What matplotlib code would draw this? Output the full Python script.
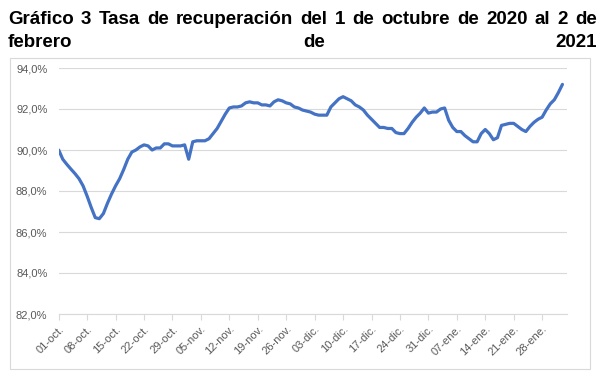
import matplotlib
matplotlib.use('Agg')
import matplotlib.pyplot as plt
import matplotlib.dates as mdates
from matplotlib.patches import Rectangle
from matplotlib.ticker import FuncFormatter
import datetime as dt

# ---------------- data ----------------
start_date = dt.date(2020, 10, 1)
rate = [
    90.0, 89.55, 89.3, 89.07, 88.85, 88.6, 88.25, 87.75, 87.2, 86.7,
    86.65, 86.9, 87.4, 87.85, 88.25, 88.6, 89.05, 89.55, 89.9, 90.0,
    90.15, 90.25, 90.2, 90.0, 90.1, 90.1, 90.3, 90.3, 90.2, 90.2,
    90.2, 90.25, 89.55, 90.4, 90.45, 90.45, 90.45, 90.55, 90.8, 91.05,
    91.4, 91.75, 92.05, 92.1, 92.1, 92.15, 92.3, 92.35, 92.3, 92.3,
    92.2, 92.2, 92.15, 92.35, 92.45, 92.4, 92.3, 92.25, 92.1, 92.05,
    91.95, 91.9, 91.85, 91.75, 91.7, 91.7, 91.7, 92.1, 92.3, 92.5,
    92.6, 92.5, 92.4, 92.2, 92.1, 91.95, 91.7, 91.5, 91.3, 91.1,
    91.1, 91.05, 91.05, 90.85, 90.8, 90.8, 91.05, 91.35, 91.6, 91.8,
    92.05, 91.8, 91.85, 91.85, 92.0, 92.05, 91.45, 91.1, 90.9, 90.9,
    90.7, 90.55, 90.4, 90.4, 90.8, 91.0, 90.8, 90.5, 90.6, 91.2,
    91.25, 91.3, 91.3, 91.15, 91.0, 90.9, 91.15, 91.35, 91.5, 91.6,
    91.95, 92.25, 92.45, 92.8, 93.2,
]
tick_labels = ['01-oct.', '08-oct.', '15-oct.', '22-oct.', '29-oct.', '05-nov.',
               '12-nov.', '19-nov.', '26-nov.', '03-dic.', '10-dic.', '17-dic.',
               '24-dic.', '31-dic.', '07-ene.', '14-ene.', '21-ene.', '28-ene.']
y_ticks = [82, 84, 86, 88, 90, 92, 94]
title_line1 = "Gráfico 3 Tasa de recuperación del 1 de octubre de 2020 al 2 de"
title_line2 = "febrero de 2021"

# ---------------- figure ----------------
W, H = 610, 377
fig = plt.figure(figsize=(W / 100, H / 100), dpi=100)
plt.rcParams['font.family'] = ['Liberation Sans', 'DejaVu Sans']

dates = [start_date + dt.timedelta(days=i) for i in range(len(rate))]
x = mdates.date2num(dates)
x0 = mdates.date2num(start_date)
tick_pos = [x0 + 7 * i for i in range(len(tick_labels))]

# plot area in pixels
L, R, T, B = 58.5, 566.7, 68, 314
ax = fig.add_axes([L / W, 1 - B / H, (R - L) / W, (B - T) / H])
ax.plot(x, rate, color='#4472C4', lw=2.3, solid_capstyle='round', solid_joinstyle='round', zorder=3)

ax.set_ylim(82, 94)
ax.set_yticks(y_ticks)
ax.yaxis.set_major_formatter(FuncFormatter(lambda v, p: f"{v:.1f}%".replace('.', ',')))
ax.set_xlim(x0 - 0.05, x0 + 125.05)
ax.set_xticks(tick_pos)
ax.set_xticklabels(tick_labels, rotation=45, ha='right', va='top', rotation_mode='anchor')

ax.grid(axis='y', color='#D9D9D9', lw=0.8, zorder=0)
for s in ['top', 'right', 'left']:
    ax.spines[s].set_visible(False)
ax.spines['bottom'].set_color('#D9D9D9')
ax.spines['bottom'].set_linewidth(0.8)
ax.tick_params(axis='y', length=0, labelsize=8, labelcolor='#595959', pad=8)
ax.tick_params(axis='x', length=4, width=0.8, color='#D9D9D9', labelsize=8,
               labelcolor='#595959', pad=3)
ax.set_facecolor('none')

# outer border
fig.patches.append(Rectangle((10 / W, 1 - 369 / H), (590 - 10) / W, (369 - 58) / H,
                             transform=fig.transFigure, fill=False,
                             edgecolor='#D9D9D9', lw=0.8))

# justified title
renderer = fig.canvas.get_renderer()
tx_left, tx_right = 8, 597
fs = 13.5

def justify(line, baseline_px):
    words = line.split()
    texts = [fig.text(0, 0, w, fontsize=fs, fontweight='bold', color='black',
                      va='baseline', ha='left') for w in words]
    widths = [t.get_window_extent(renderer).width for t in texts]
    gap = (tx_right - tx_left - sum(widths)) / (len(words) - 1)
    xp = tx_left
    for t, wd in zip(texts, widths):
        t.set_position((xp / W, 1 - baseline_px / H))
        xp += wd + gap

justify(title_line1, 24)
justify(title_line2, 47)

fig.savefig('out.png', dpi=100)
